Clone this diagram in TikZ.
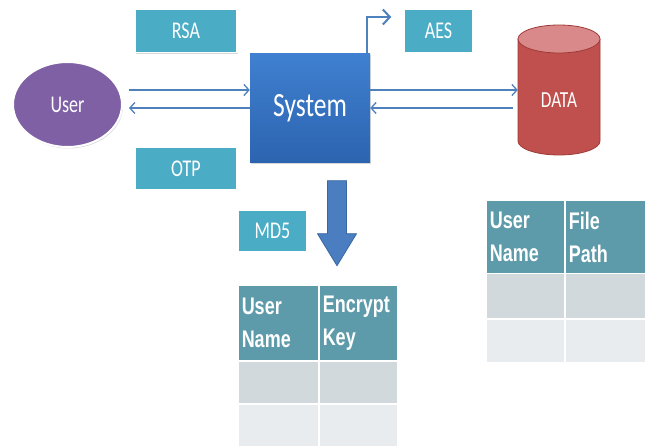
\documentclass[tikz,border=0pt]{standalone}
\usepackage{fontspec}
\setmainfont{Carlito}
\newfontfamily\boxfont[FakeStretch=0.75]{Carlito}
\newfontfamily\hdfont[FakeStretch=0.75]{Liberation Sans}
\usetikzlibrary{arrows.meta,calc,shadows,shapes.geometric}
\definecolor{tealbox}{HTML}{4BACC6}
\definecolor{purplefill}{HTML}{7F60A4}
\definecolor{sysA}{HTML}{3F80D0}
\definecolor{sysB}{HTML}{2C64B0}
\definecolor{lineblue}{HTML}{4F81BD}
\definecolor{datared}{HTML}{C0504D}
\definecolor{datatop}{HTML}{D9898A}
\definecolor{dataedge}{HTML}{9E3A37}
\definecolor{arrowblue}{HTML}{4A7EC0}
\definecolor{arrowedge}{HTML}{3A67A0}
\definecolor{hdcol}{HTML}{5E9BAA}
\definecolor{rowA}{HTML}{D2D9DC}
\definecolor{rowB}{HTML}{E8ECEE}
\begin{document}
\begin{tikzpicture}[x=1pt,y=-1pt,
  tbox/.style={rectangle, fill=tealbox, draw=white, line width=1.5pt, inner sep=0,
    drop shadow={shadow xshift=1pt, shadow yshift=-1.5pt, opacity=0.3},
    text=white, font=\boxfont\fontsize{24}{28}\selectfont},
  arr/.style={draw=lineblue, line width=1.3pt,
    -{Straight Barb[length=5pt,width=11pt,line width=1.3pt]}},
  bigarr/.style={draw=lineblue, line width=2pt,
    -{Straight Barb[length=7pt,width=15pt,line width=2pt]}},
  cellbase/.style={rectangle, draw=white, line width=1.5pt, inner ysep=0, inner xsep=4pt, anchor=north west},
  hcell/.style={cellbase, fill=hdcol, align=left, text=white,
    font=\hdfont\bfseries\fontsize{24}{33}\selectfont},
  rcellA/.style={cellbase, fill=rowA},
  rcellB/.style={cellbase, fill=rowB}]
\useasboundingbox (0,0) rectangle (645,446);
\fill[white] (0,0) rectangle (645,446);

% boxes
\node[tbox, minimum width=102, minimum height=43] (rsa) at (186,31) {RSA};
\node[tbox, minimum width=102, minimum height=43] (otp) at (186,168.5) {OTP};
\node[tbox, minimum width=69, minimum height=44] (aes) at (438.5,31) {AES};
\node[tbox, minimum width=69, minimum height=42] (md5) at (272.5,231) {MD5};

% user
\node[ellipse, fill=purplefill, draw=white, line width=2pt, minimum width=109, minimum height=85,
  drop shadow={shadow xshift=1pt, shadow yshift=-1.5pt, opacity=0.3},
  text=white, font=\boxfont\fontsize{24}{28}\selectfont] (user) at (67.5,104.5) {User};

% system
\node[rectangle, top color=sysA, bottom color=sysB, minimum width=120, minimum height=109,
  drop shadow={shadow xshift=1pt, shadow yshift=-1.5pt, opacity=0.3},
  text=white, font=\boxfont\fontsize{34}{40}\selectfont] (system) at (310,108) {System};

% data cylinder
\coordinate (dtop) at (559,39);
\coordinate (dbot) at (559,141);
\filldraw[fill=datared, draw=dataedge, line width=0.8pt]
  ($(dtop)+(-41,0)$) -- ($(dbot)+(-41,0)$) arc[start angle=180, end angle=360, x radius=41pt, y radius=14pt]
  -- ($(dtop)+(41,0)$) -- cycle;
\filldraw[fill=datatop, draw=dataedge, line width=0.8pt] (dtop) ellipse [x radius=41pt, y radius=14pt];
\node[minimum width=82, minimum height=60, inner sep=0, text=white,
  font=\boxfont\fontsize{23}{28}\selectfont] (data) at (559,100) {DATA};

% connectors
\draw[arr] ($(user.east)+(6,-14.5)$) -- ($(system.west)+(0,-18)$);
\draw[arr] (system.west) -- ($(user.east)+(6,3.5)$);
\draw[arr] ($(system.east)+(0,-18)$) -- ($(data.west)+(0,-10)$);
\draw[arr] ($(data.west)+(-5,8)$) -- (system.east);
\draw[bigarr] ($(system.north east)+(-3,0)$) |- ($(aes.west)+(-12,-14)$);

% big down arrow
\coordinate (dn) at ($(system.south)+(27,18)$);
\filldraw[fill=arrowblue, draw=arrowedge, line width=0.8pt]
  ($(dn)+(-9.5,0)$) -- ($(dn)+(9.5,0)$) -- ($(dn)+(9.5,53)$) -- ($(dn)+(19.5,53)$)
  -- ($(dn)+(0,85)$) -- ($(dn)+(-19.5,53)$) -- ($(dn)+(-9.5,53)$) -- cycle;

% table 1
\node[hcell, minimum width=81, minimum height=75, text width=73] (t1a) at (237,285) {User\\Name};
\node[hcell, minimum width=79, minimum height=75, text width=71] (t1b) at (318,285) {Encrypt\\Key};
\node[rcellA, minimum width=81, minimum height=43] (t1c) at (237,360) {};
\node[rcellA, minimum width=79, minimum height=43] (t1d) at (318,360) {};
\node[rcellB, minimum width=81, minimum height=43] (t1e) at (237,403) {};
\node[rcellB, minimum width=79, minimum height=43] (t1f) at (318,403) {};

% table 2
\node[hcell, minimum width=79, minimum height=73, text width=71] (t2a) at (485,200) {User\\Name};
\node[hcell, minimum width=81, minimum height=73, text width=73] (t2b) at (564,200) {File\\Path};
\node[rcellA, minimum width=79, minimum height=45] (t2c) at (485,273) {};
\node[rcellA, minimum width=81, minimum height=45] (t2d) at (564,273) {};
\node[rcellB, minimum width=79, minimum height=44] (t2e) at (485,318) {};
\node[rcellB, minimum width=81, minimum height=44] (t2f) at (564,318) {};
\end{tikzpicture}
\end{document}
